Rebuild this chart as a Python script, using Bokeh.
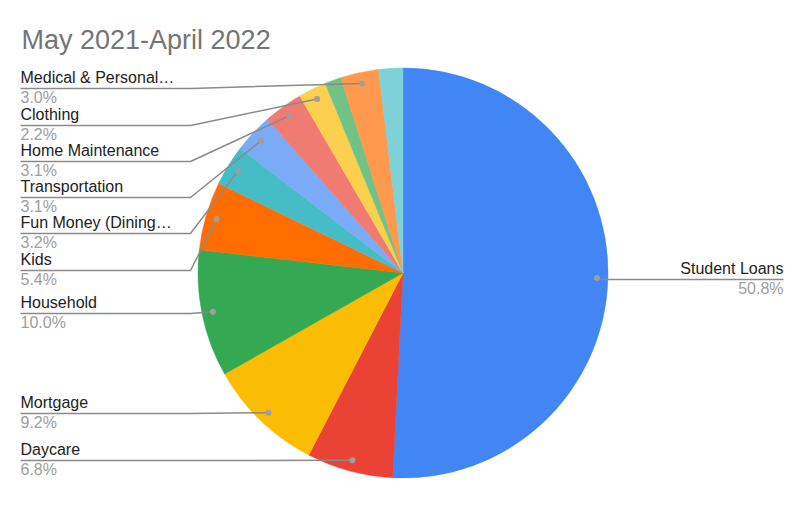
import math
from bokeh.plotting import figure
from bokeh.models import Range1d, ColumnDataSource
from bokeh.core.properties import value
from bokeh.embed import file_html
from bokeh.resources import INLINE

# ---- data ----
title = "May 2021-April 2022"
categories = ["Student Loans", "Daycare", "Mortgage", "Household", "Kids",
              "Fun Money (Dining…", "Transportation", "Home Maintenance",
              "Clothing", "Other", "Medical & Personal…", "Misc"]
percents = [50.8, 6.8, 9.2, 10.0, 5.4, 3.2, 3.1, 3.1, 2.2, 1.3, 3.0, 1.9]
colors = ["#4285F4", "#EA4335", "#FBBC04", "#34A853", "#FF6D01", "#46BDC6",
          "#7BAAF7", "#F07B72", "#FCD04F", "#71C287", "#FF994D", "#7ED1D7"]
labeled = [True, True, True, True, True, True, True, True, True, False, True, False]

# ---- layout (screen pixels) ----
W, H = 784, 489
def X(sx): return sx
def Y(sy): return H - sy

CX, CY, R, RDOT = X(402.5), Y(272.5), 205, 194
label_line_y = {"Student Loans": 279, "Daycare": 460, "Mortgage": 413, "Household": 313,
                "Kids": 270, "Fun Money (Dining…": 233, "Transportation": 197,
                "Home Maintenance": 161, "Clothing": 125, "Medical & Personal…": 88}
LEFT_X, ELBOW_X, RIGHT_X = 20, 190, 783
FONT = "Liberation Sans"
TEXT_SHIFT = 7

p = figure(width=W, height=H, output_backend="svg", toolbar_location=None,
           x_range=Range1d(0, W), y_range=Range1d(0, H),
           x_axis_type=None, y_axis_type=None, min_border=0)
p.grid.visible = False
p.outline_line_color = None

total = sum(percents)
starts, ends, mids = [], [], []
cum = 0.0
for v in percents:
    a0 = math.pi / 2 - 2 * math.pi * (cum + v) / total
    a1 = math.pi / 2 - 2 * math.pi * cum / total
    starts.append(a0); ends.append(a1)
    mids.append(math.pi / 2 - 2 * math.pi * (cum + v / 2) / total)
    cum += v

src = ColumnDataSource(dict(start=starts, end=ends, color=colors, name=categories))
p.wedge(x=CX, y=CY, radius=R, start_angle="start", end_angle="end",
        fill_color="color", line_color="color", line_width=0.5, source=src)

# leader lines, dots, labels
xs, ys, dxs, dys = [], [], [], []
nx, ny, nt, na = [], [], [], []
px, py, pt, pa = [], [], [], []
for name, v, m, show in zip(categories, percents, mids, labeled):
    if not show:
        continue
    dxp = CX + RDOT * math.cos(m)
    dyp = CY + RDOT * math.sin(m)
    ly = label_line_y[name]
    dxs.append(dxp); dys.append(dyp)
    if math.cos(m) > 0:
        xs.append([dxp, X(RIGHT_X)]); ys.append([Y(ly), Y(ly)])
        tx, al = X(RIGHT_X), "right"
    else:
        xs.append([X(LEFT_X), X(ELBOW_X), dxp]); ys.append([Y(ly), Y(ly), dyp])
        tx, al = X(LEFT_X), "left"
    nx.append(tx); ny.append(Y(ly - 4 - TEXT_SHIFT)); nt.append(name); na.append(al)
    px.append(tx); py.append(Y(ly + 15.5 - TEXT_SHIFT)); pt.append(f"{v:.1f}%"); pa.append(al)

p.multi_line(xs=xs, ys=ys, line_color="#8a8a8a", line_width=1.5)
p.scatter(x=dxs, y=dys, size=6, fill_color="#9e9e9e", line_color=None)

p.text(x=nx, y=ny, text=nt, text_align=na, text_baseline="alphabetic",
       text_font=value(FONT), text_font_size="16px", text_color="#222222")
p.text(x=px, y=py, text=pt, text_align=pa, text_baseline="alphabetic",
       text_font=value(FONT), text_font_size="16px", text_color="#9e9e9e")

p.text(x=[X(21)], y=[Y(46.5 - TEXT_SHIFT)], text=[title], text_align="left",
       text_baseline="alphabetic",
       text_font=value(FONT), text_font_size="27px", text_color="#757575")

open("out.html", "w").write(file_html(p, INLINE))
